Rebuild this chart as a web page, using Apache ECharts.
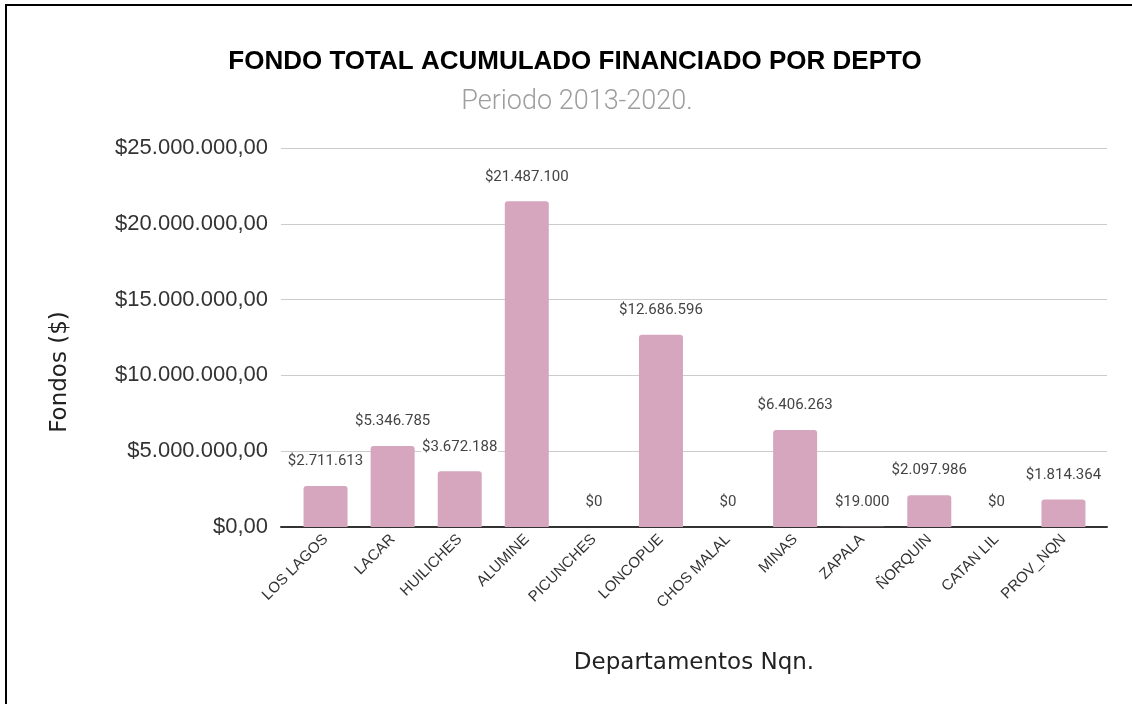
<!DOCTYPE html>
<html>
<head>
<meta charset="utf-8">
<script src="https://cdn.jsdelivr.net/npm/echarts@6/dist/echarts.min.js"></script>
<style>
  html, body { margin: 0; padding: 0; background: #fff; }
  #chart { position: absolute; left: 0; top: 0; width: 1132px; height: 704px; }
  #frame { position: absolute; left: 5px; top: 4px; width: 1127px; height: 700px;
           border-left: 2px solid #000; border-top: 2px solid #000; pointer-events: none; box-sizing: border-box; }
</style>
</head>
<body>
<div id="chart"></div>
<div id="frame"></div>
<script>
const chartTitle = 'FONDO TOTAL ACUMULADO FINANCIADO POR DEPTO';
const chartSubtitle = 'Periodo 2013-2020.';
const xAxisTitle = 'Departamentos Nqn.';
const yAxisTitle = 'Fondos ($)';
const categories = ['LOS LAGOS', 'LACAR', 'HUILICHES', 'ALUMINE', 'PICUNCHES', 'LONCOPUE',
                    'CHOS MALAL', 'MINAS', 'ZAPALA', 'ÑORQUIN', 'CATAN LIL', 'PROV_NQN'];
const fondos = [2711613, 5346785, 3672188, 21487100, 0, 12686596,
                0, 6406263, 19000, 2097986, 0, 1814364];
const yTicks = [0, 5000000, 10000000, 15000000, 20000000, 25000000];

function groupDots(n) {
  return String(Math.round(n)).replace(/\B(?=(\d{3})+(?!\d))/g, '.');
}
function moneyLabel(n) { return '$' + groupDots(n); }
function moneyTick(n) { return '$' + groupDots(n) + ',00'; }

const yMin = yTicks[0], yMax = yTicks[yTicks.length - 1], yStep = yTicks[1] - yTicks[0];

const chart = echarts.init(document.getElementById('chart'), null, { renderer: 'canvas' });
chart.setOption({
  backgroundColor: '#fff',
  animation: false,
  title: [
    { text: chartTitle, left: 570, top: 44, textAlign: 'center',
      textStyle: { fontFamily: 'Liberation Sans, Arial', fontWeight: 'bold', fontSize: 26, color: '#000' } },
    { text: chartSubtitle, left: 572, top: 84, textAlign: 'center',
      textStyle: { fontFamily: 'Roboto', fontWeight: 300, fontSize: 27, color: '#9e9e9e' } }
  ],
  graphic: [{
    type: 'text', x: 60, y: 372, rotation: Math.PI / 2,
    style: { text: yAxisTitle, fontFamily: 'DejaVu Sans', fontSize: 23, fill: '#222',
             align: 'center', verticalAlign: 'middle' }
  }],
  grid: [
    { left: 281, right: 25, top: 148, bottom: 177, containLabel: false },
    { left: 292, right: 35, top: 148, bottom: 177, containLabel: false }
  ],
  xAxis: [
    {
      gridIndex: 0, type: 'value', min: 0, max: 1,
      axisLine: { show: true, onZero: false, lineStyle: { color: '#333', width: 2 } },
      axisTick: { show: false }, axisLabel: { show: false }, splitLine: { show: false },
      name: xAxisTitle, nameLocation: 'middle', nameGap: 125,
      nameTextStyle: { fontFamily: 'DejaVu Sans', fontSize: 23, color: '#222' }
    },
    {
      gridIndex: 1, type: 'category', data: categories,
      axisLine: { show: false }, axisTick: { show: false },
      axisLabel: { rotate: 45, margin: 10, interval: 0, padding: [12, 0, 0, 0],
        fontFamily: 'Liberation Sans Narrow, Liberation Sans', fontSize: 15, color: '#333' }
    }
  ],
  yAxis: [
    {
      gridIndex: 0, type: 'value', min: yMin, max: yMax, interval: yStep,
      axisLine: { show: false }, axisTick: { show: false },
      axisLabel: { margin: 13, fontFamily: 'Liberation Sans, Arial', fontSize: 22, color: '#333',
        formatter: function (v) { return moneyTick(v); } },
      splitLine: { lineStyle: { color: '#cccccc', width: 1 } }
    },
    {
      gridIndex: 1, type: 'value', min: yMin, max: yMax, interval: yStep,
      axisLine: { show: false }, axisTick: { show: false },
      axisLabel: { show: false }, splitLine: { show: false }
    }
  ],
  series: [{
    type: 'bar',
    xAxisIndex: 1, yAxisIndex: 1,
    data: fondos,
    barWidth: 44,
    z: 3,
    itemStyle: { color: '#d5a6bd', borderRadius: [3, 3, 0, 0] },
    label: {
      show: true, position: 'top', distance: 17,
      fontFamily: 'Roboto', fontSize: 15, color: '#444',
      backgroundColor: '#fff', padding: [0, 1],
      formatter: function (p) { return moneyLabel(p.value); }
    }
  }]
});
</script>
</body>
</html>
